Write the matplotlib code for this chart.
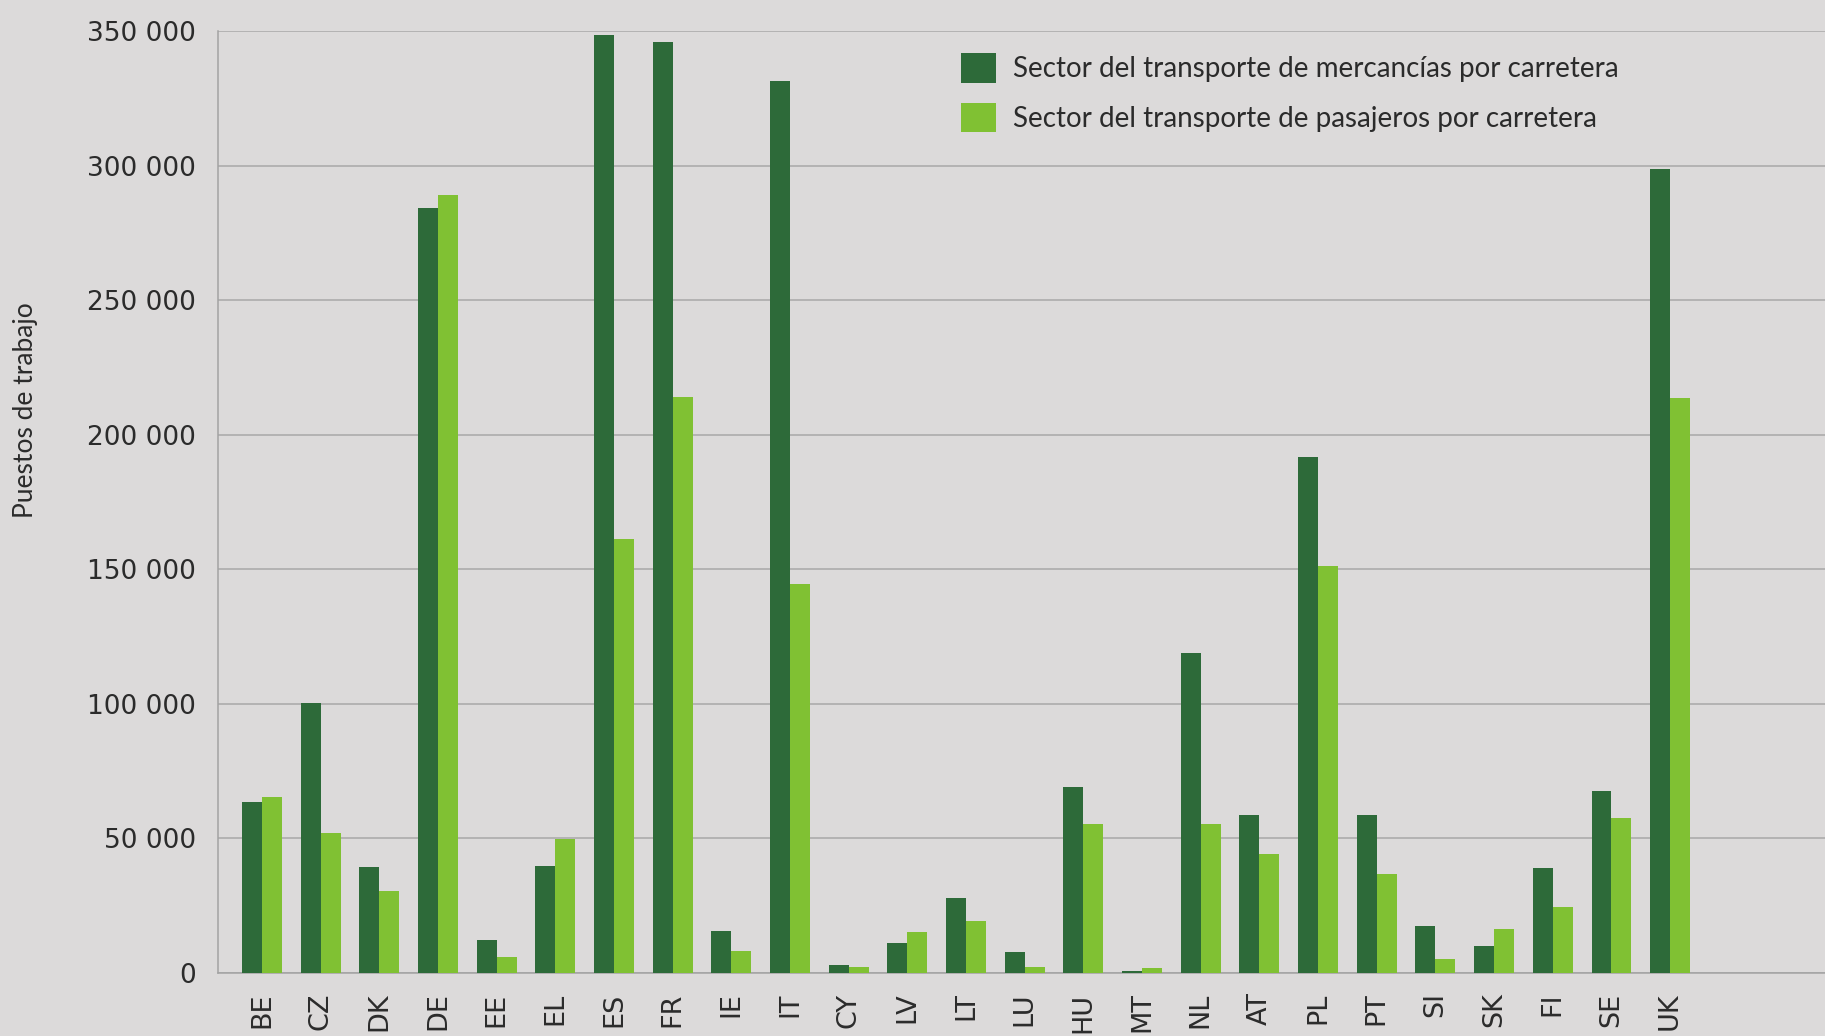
import matplotlib
matplotlib.use('Agg')
import matplotlib.pyplot as plt
import numpy as np
from matplotlib.ticker import FuncFormatter, MultipleLocator

#region Data

countries = ['BE', 'CZ', 'DK', 'DE', 'EE', 'EL', 'ES', 'FR', 'IE', 'IT', 'CY', 'LV', 'LT',
             'LU', 'HU', 'MT', 'NL', 'AT', 'PL', 'PT', 'SI', 'SK', 'FI', 'SE', 'UK']

mercancias = [63600, 100300, 39400, 284200, 12100, 39800, 348600, 346000, 15600, 331300,
              3000, 11200, 27700, 7800, 69200, 900, 119000, 58800, 191600, 58800,
              17300, 9900, 38900, 67500, 298900]

pasajeros = [65300, 51900, 30300, 289000, 6000, 49700, 161300, 214100, 8200, 144500,
             2200, 15100, 19500, 2200, 55400, 1700, 55400, 44100, 151400, 36800,
             5200, 16400, 24700, 57500, 213700]

series_name = ['Sector del transporte de mercancías por carretera',
               'Sector del transporte de pasajeros por carretera']

#endregion

#region Style

bg = '#dcdada'
dark_green = '#2d6a39'
light_green = '#80c133'
text_color = '#2b2b2b'
bar_w = 0.34

#endregion

#region Plot

fig = plt.figure(figsize=(18.25, 10.36), dpi=100, facecolor=bg)
ax = fig.add_axes([0.1195, 0.0608, 0.8805, 0.9092])
ax.set_facecolor(bg)

x = np.arange(len(countries))
ax.bar(x - bar_w / 2, mercancias, bar_w, color=dark_green, label=series_name[0], zorder=3)
ax.bar(x + bar_w / 2, pasajeros, bar_w, color=light_green, label=series_name[1], zorder=3)

ax.set_xlim(-0.75, len(countries) - 1 + 2.64)
ax.set_ylim(0, 350000)
ax.yaxis.set_major_locator(MultipleLocator(50000))
ax.yaxis.set_major_formatter(FuncFormatter(lambda v, p: f'{int(v):,}'.replace(',', ' ')))
ax.grid(axis='y', color='#a8a8a8', linewidth=1.1, zorder=0)

for side in ['top', 'right']:
    ax.spines[side].set_visible(False)
for side in ['left', 'bottom']:
    ax.spines[side].set_color('#a3a3a3')
    ax.spines[side].set_linewidth(1.1)

ax.tick_params(axis='both', length=0, colors=text_color)
ax.tick_params(axis='y', labelsize=19, pad=16)
ax.set_xticks(x)
ax.set_xticklabels(countries, rotation=90, fontsize=19.5, va='top', ha='center')
ax.tick_params(axis='x', pad=14)

ax.set_ylabel('Puestos de trabajo', fontsize=19, family='Lato', color=text_color)
ax.yaxis.set_label_coords(-0.112, 0.598)

leg = ax.legend(loc='upper left', bbox_to_anchor=(0.447, 1.003), frameon=False,
                prop={'family': 'Lato', 'size': 20}, handlelength=1.25, handleheight=1.25,
                handletextpad=0.6, labelspacing=0.72)
for t in leg.get_texts():
    t.set_color(text_color)

fig.savefig('out.png', dpi=100, facecolor=bg)

#endregion
